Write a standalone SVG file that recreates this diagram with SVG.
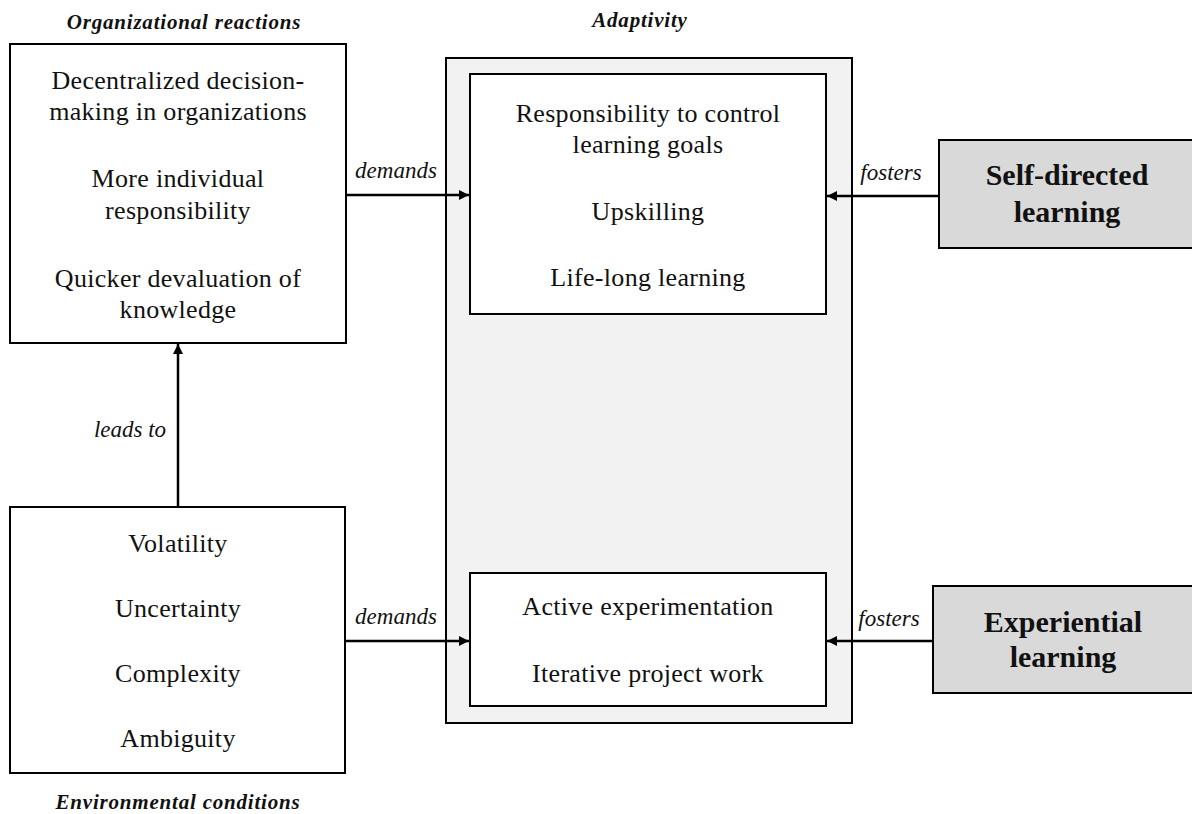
<svg xmlns="http://www.w3.org/2000/svg" width="1192" height="814" viewBox="0 0 1192 814">
  <style>
    .box { fill: #ffffff; stroke: #000000; stroke-width: 2; }
    .outer { fill: #f2f2f2; stroke: #000000; stroke-width: 2; }
    .method { fill: #d9d9d9; stroke: #000000; stroke-width: 2; }
    .body { font-family: "Liberation Serif", "Times New Roman", serif; font-size: 26px; fill: #111111; text-anchor: middle; letter-spacing: 0.3px; }
    .title { font-family: "Liberation Serif", "Times New Roman", serif; font-size: 21px; font-weight: bold; font-style: italic; fill: #111111; text-anchor: middle; letter-spacing: 0.8px; }
    .label { font-family: "Liberation Serif", "Times New Roman", serif; font-size: 23px; font-style: italic; fill: #111111; text-anchor: middle; }
    .strong { font-family: "Liberation Serif", "Times New Roman", serif; font-size: 30px; font-weight: bold; fill: #111111; text-anchor: middle; }
    .edge { stroke: #000000; stroke-width: 2.5; fill: none; marker-end: url(#head); }
  </style>
  <defs>
    <marker id="head" viewBox="0 0 10 10" refX="10" refY="5" markerWidth="4.4" markerHeight="4" markerUnits="strokeWidth" orient="auto">
      <path d="M0,0 L10,5 L0,10 z" fill="#000000"/>
    </marker>
  </defs>

  <!-- section headings -->
  <text class="title" x="184" y="29">Organizational reactions</text>
  <text class="title" x="640" y="27">Adaptivity</text>
  <text class="title" x="178" y="809">Environmental conditions</text>

  <g id="adaptivity">
    <rect class="outer" x="446" y="58" width="406" height="665"/>
  </g>

  <g id="org-reactions">
    <rect class="box" x="10" y="44" width="336" height="299"/>
    <text class="body" x="178" y="89">Decentralized decision-</text>
    <text class="body" x="178" y="120">making in organizations</text>
    <text class="body" x="178" y="187">More individual</text>
    <text class="body" x="178" y="219">responsibility</text>
    <text class="body" x="178" y="287">Quicker devaluation of</text>
    <text class="body" x="178" y="318">knowledge</text>
  </g>

  <g id="env-conditions">
    <rect class="box" x="10" y="507" width="335" height="266"/>
    <text class="body" x="178" y="552">Volatility</text>
    <text class="body" x="178" y="617">Uncertainty</text>
    <text class="body" x="178" y="682">Complexity</text>
    <text class="body" x="178" y="747">Ambiguity</text>
  </g>

  <g id="adaptivity-goals">
    <rect class="box" x="470" y="74" width="356" height="240"/>
    <text class="body" x="648" y="122">Responsibility to control</text>
    <text class="body" x="648" y="153">learning goals</text>
    <text class="body" x="648" y="220">Upskilling</text>
    <text class="body" x="648" y="286">Life-long learning</text>
  </g>

  <g id="adaptivity-practice">
    <rect class="box" x="470" y="573" width="356" height="133"/>
    <text class="body" x="648" y="615">Active experimentation</text>
    <text class="body" x="648" y="682">Iterative project work</text>
  </g>

  <g id="self-directed">
    <rect class="method" x="939" y="140" width="262" height="108"/>
    <text class="strong" x="1067" y="185">Self-directed</text>
    <text class="strong" x="1067" y="222">learning</text>
  </g>

  <g id="experiential">
    <rect class="method" x="933" y="586" width="268" height="107"/>
    <text class="strong" x="1063" y="632">Experiential</text>
    <text class="strong" x="1063" y="667">learning</text>
  </g>

  <g id="connectors">
    <line class="edge" x1="178" y1="507" x2="178" y2="344"/>
    <text class="label" x="130" y="437">leads to</text>

    <line class="edge" x1="346" y1="195" x2="469" y2="195"/>
    <text class="label" x="396" y="178">demands</text>

    <line class="edge" x1="345" y1="641" x2="469" y2="641"/>
    <text class="label" x="396" y="624">demands</text>

    <line class="edge" x1="939" y1="196" x2="827" y2="196"/>
    <text class="label" x="891" y="180">fosters</text>

    <line class="edge" x1="933" y1="641" x2="827" y2="641"/>
    <text class="label" x="889" y="626">fosters</text>
  </g>
</svg>
